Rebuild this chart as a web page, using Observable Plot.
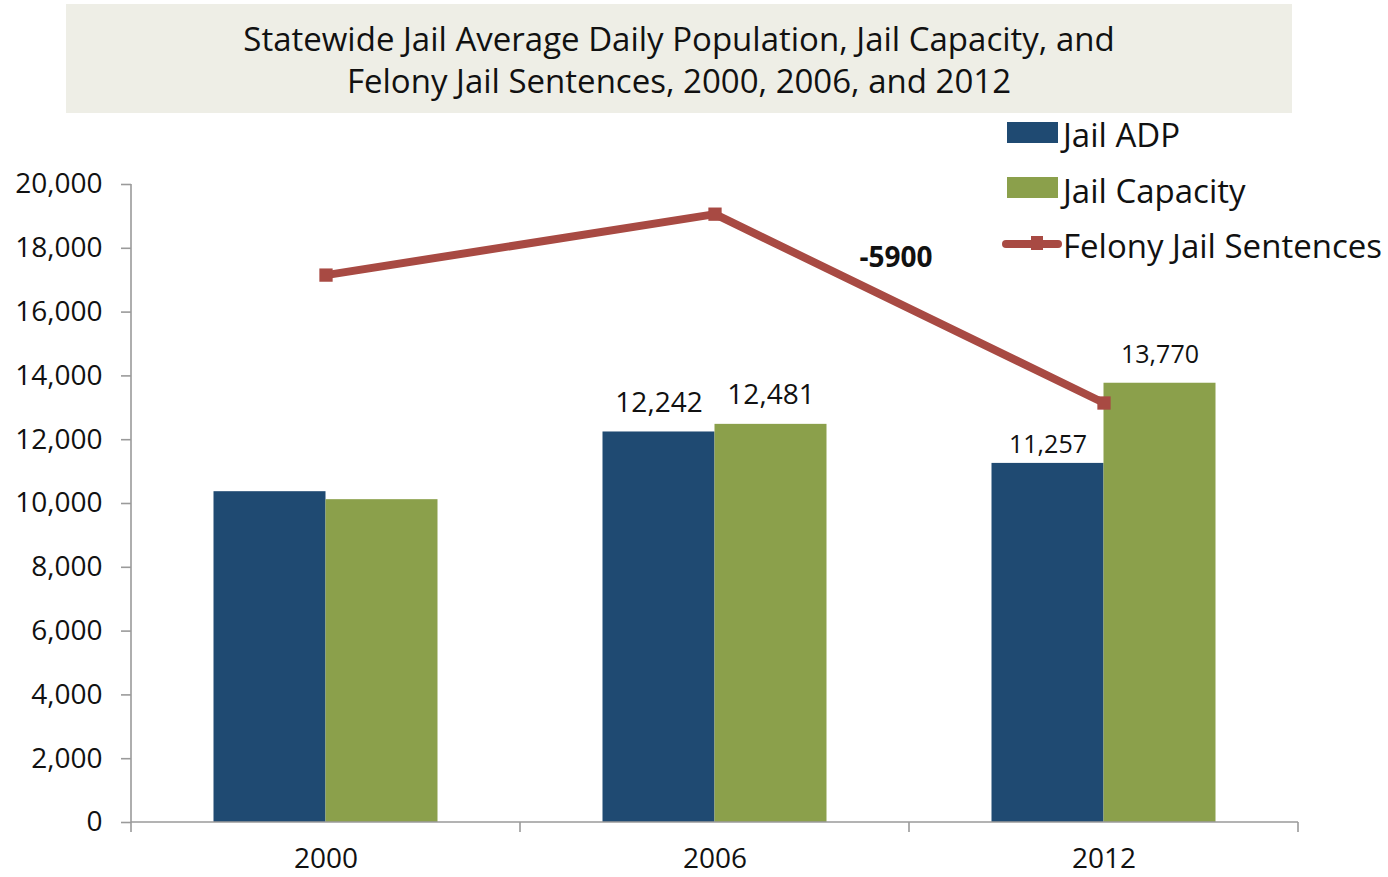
<!DOCTYPE html>
<html>
<head>
<meta charset="utf-8">
<script src="https://cdn.jsdelivr.net/npm/d3@7"></script>
<script src="https://cdn.jsdelivr.net/npm/@observablehq/plot@0.6"></script>
<style>
  body { margin: 0; background: #fff; font-family: "Open Sans", sans-serif; }
  #wrap { position: relative; width: 1388px; height: 877px; overflow: hidden; }
  #title { position: absolute; left: 66px; top: 4px; width: 1226px; height: 109px; background: #eeeee6;
           text-align: center; font-size: 33px; line-height: 42px; box-sizing: border-box; padding-top: 14px; color: #111; }
  #chart { position: absolute; left: 0; top: 0; }
  .lg { position: absolute; font-size: 33px; line-height: 30px; color: #111; white-space: nowrap; }
  .sw { position: absolute; }
</style>
</head>
<body>
<div id="wrap">
  <div id="chart"></div>
  <div id="title">Statewide Jail Average Daily Population, Jail Capacity, and<br>Felony Jail Sentences, 2000, 2006, and 2012</div>
  <div id="legend"></div>
</div>
<script>
// ---- data ----
const years = ["2000", "2006", "2012"];
const jailADP = [10370, 12242, 11257];
const jailCapacity = [10120, 12481, 13770];
const felonySentences = [17160, 19070, 13150];
const yTicks = [0, 2000, 4000, 6000, 8000, 10000, 12000, 14000, 16000, 18000, 20000];
const labeledYears = ["2006", "2012"];
const seriesNames = ["Jail ADP", "Jail Capacity", "Felony Jail Sentences"];
const changeLabel = "-5900";

// ---- style ----
const colADP = "#1f4a72";
const colCap = "#8ba04b";
const colFel = "#a84a43";
const axisCol = "#9a9a9a";
const W = 1388, H = 877;
const mL = 131, mR = 90, mT = 184, mB = 55;
const step = (W - mL - mR) / years.length;
const barW = 112;

const adpRows = years.map((y, i) => ({year: y, value: jailADP[i]}));
const capRows = years.map((y, i) => ({year: y, value: jailCapacity[i]}));
const felRows = years.map((y, i) => ({year: y, value: felonySentences[i]}));
const fmt = d3.format(",");
const labelSize = {"2006": 28, "2012": 25};
const adpGap = {"2006": 20, "2012": 10};
const capGap = {"2006": 20, "2012": 20};

function axisLines(index, scales, values, dims) {
  const g = d3.create("svg:g").attr("stroke", axisCol).attr("stroke-width", 1.6).attr("fill", "none");
  const x0 = dims.marginLeft, x1 = dims.width - dims.marginRight;
  const y0 = scales.y(0), yTop = scales.y(yTicks[yTicks.length - 1]);
  g.append("line").attr("x1", x0).attr("x2", x0).attr("y1", yTop).attr("y2", y0 + 10);
  g.append("line").attr("x1", x0).attr("x2", x1).attr("y1", y0).attr("y2", y0);
  const s = (x1 - x0) / years.length;
  for (let k = 1; k <= years.length; k++) {
    g.append("line").attr("x1", x0 + k * s).attr("x2", x0 + k * s).attr("y1", y0).attr("y2", y0 + 10);
  }
  return g.node();
}

const chart = Plot.plot({
  width: W, height: H,
  marginLeft: mL, marginRight: mR, marginTop: mT, marginBottom: mB,
  style: {fontFamily: "'Open Sans', sans-serif", color: "#111", background: "transparent", overflow: "visible"},
  x: {domain: years, padding: 0, axis: null, label: null},
  y: {domain: [0, 20000], axis: null, label: null},
  marks: [
    Plot.barY(adpRows, {x: "year", y: "value", fill: colADP, insetLeft: step / 2 - barW, insetRight: step / 2,
      style: "filter: drop-shadow(2px 2px 2px rgba(0,0,0,0.25))"}),
    Plot.barY(capRows, {x: "year", y: "value", fill: colCap, insetLeft: step / 2, insetRight: step / 2 - barW,
      style: "filter: drop-shadow(2px 2px 2px rgba(0,0,0,0.25))"}),
    axisLines,
    Plot.axisY({ticks: yTicks, tickFormat: fmt, tickSize: 10, tickPadding: 19, fontSize: 28, stroke: axisCol, strokeWidth: 1.6, label: null}),
    Plot.axisX({tickSize: 0, tickPadding: 26, fontSize: 28, label: null}),
    Plot.line(felRows, {x: "year", y: "value", stroke: colFel, strokeWidth: 8}),
    Plot.dot(felRows, {x: "year", y: "value", symbol: "square", r: 7.5, fill: colFel, stroke: "none"}),
    ...labeledYears.map(yr => Plot.text(adpRows.filter(d => d.year === yr), {x: "year", y: "value", text: d => fmt(d.value),
      dx: -barW / 2, dy: -adpGap[yr], lineAnchor: "bottom", fontSize: labelSize[yr], fill: "#111"})),
    ...labeledYears.map(yr => Plot.text(capRows.filter(d => d.year === yr), {x: "year", y: "value", text: d => fmt(d.value),
      dx: barW / 2, dy: -capGap[yr], lineAnchor: "bottom", fontSize: labelSize[yr], fill: "#111"})),
    Plot.text([{year: years[1], value: 17700}], {x: "year", y: "value", text: () => changeLabel, dx: 181,
      fontSize: 28, fontWeight: "bold", fill: "#111"})
  ]
});
document.getElementById("chart").appendChild(chart);

// ---- legend ----
const legend = document.getElementById("legend");
const lgItems = [
  {name: seriesNames[0], kind: "rect", color: colADP, top: 122, base: 148},
  {name: seriesNames[1], kind: "rect", color: colCap, top: 177, base: 204},
  {name: seriesNames[2], kind: "line", color: colFel, top: 239, base: 259}
];
lgItems.forEach(it => {
  if (it.kind === "rect") {
    const s = document.createElement("div");
    s.className = "sw";
    Object.assign(s.style, {left: "1007px", top: it.top + "px", width: "51px", height: "21px", background: it.color});
    legend.appendChild(s);
  } else {
    const l = document.createElement("div");
    l.className = "sw";
    Object.assign(l.style, {left: "1002px", top: (it.top + 1) + "px", width: "60px", height: "8px", background: it.color, borderRadius: "4px"});
    legend.appendChild(l);
    const m = document.createElement("div");
    m.className = "sw";
    Object.assign(m.style, {left: "1031px", top: (it.top - 3) + "px", width: "12px", height: "14px", background: it.color});
    legend.appendChild(m);
  }
  const t = document.createElement("div");
  t.className = "lg";
  t.textContent = it.name;
  Object.assign(t.style, {left: "1063px", top: (it.base - 28) + "px"});
  legend.appendChild(t);
});
</script>
</body>
</html>
